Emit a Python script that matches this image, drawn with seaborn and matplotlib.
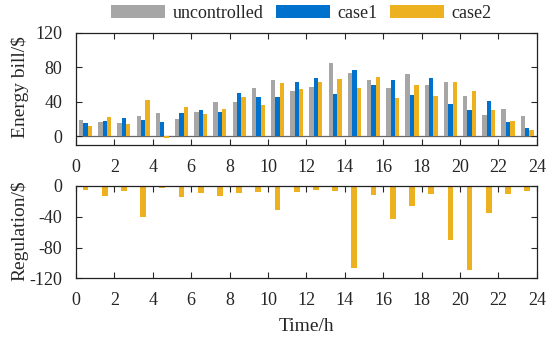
import numpy as np
import pandas as pd
import seaborn as sns
import matplotlib.pyplot as plt

hours = list(range(24))
uncontrolled = [19, 17, 15.5, 24, 27.5, 20.6, 28.3, 39.6, 40, 56.6, 64.8, 52.8,
                57.4, 85.4, 74, 64.8, 56.3, 71.8, 59.4, 63.6, 47, 24.4, 31.8, 23]
case1 = [15, 18, 21, 19.4, 17, 27.5, 30, 28, 50, 45.4, 45.4, 62.9,
         68, 49, 76.8, 59.8, 65.6, 48, 67.5, 37.2, 30.7, 40.4, 16, 9.7]
case2 = [12, 22.5, 14.7, 42, -1.5, 34, 26.4, 31.4, 45.8, 36, 61.7, 55,
         62.5, 66.7, 55.9, 69, 44.6, 59, 46.2, 63.6, 53, 30, 17.5, 7.8]
regulation = [-5.6, -12.9, -6.5, -40.9, -3.4, -15, -9.5, -13.3, -9.5, -8.2, -31, -8.2,
              -5.2, -7.3, -107, -11.6, -43.4, -25.8, -11.2, -69.7, -109, -35.7, -10.7, -6.9]
series_names = ["uncontrolled", "case1", "case2"]
colors = ["#A6A6A6", "#0072CE", "#EDB120"]

bill = pd.DataFrame({
    "hour": np.tile(np.array(hours) + 0.5, 3),
    "series": np.repeat(series_names, 24),
    "value": uncontrolled + case1 + case2,
})
reg = pd.DataFrame({"hour": np.array(hours) + 0.5, "value": regulation})

sns.set_theme(style="ticks")
plt.rcParams["font.family"] = ["Liberation Serif", "DejaVu Serif"]
plt.rcParams["font.size"] = 13
plt.rcParams["axes.unicode_minus"] = False

fig = plt.figure(figsize=(5.5, 3.4), dpi=100)
ax1 = fig.add_axes([0.138, 0.574, 0.838, 0.329])
ax2 = fig.add_axes([0.138, 0.181, 0.838, 0.273])

sns.barplot(data=bill, x="hour", y="value", hue="series", native_scale=True,
            palette=colors, width=0.68, saturation=1, linewidth=0, ax=ax1)
ax1.axhline(0, color="#666666", lw=0.9, zorder=0)
ax1.set_xlim(0, 24)
ax1.set_ylim(-10, 120)
ax1.set_yticks([0, 40, 80, 120])
ax1.set_xticks(range(0, 25, 2))
ax1.set_xlabel("")
ax1.set_ylabel("Energy bill/$", fontsize=14)
ax1.legend(loc="center", bbox_to_anchor=(0.548, 0.96), bbox_transform=fig.transFigure,
           ncol=3, frameon=False, fontsize=13, handlelength=3.0, handleheight=0.7,
           columnspacing=0.7, handletextpad=0.4)

sns.barplot(data=reg, x="hour", y="value", native_scale=True, color=colors[2],
            width=0.3, saturation=1, linewidth=0, ax=ax2)
ax2.set_xlim(0, 24)
ax2.set_ylim(-120, 0)
ax2.set_yticks([-120, -80, -40, 0])
ax2.set_xticks(range(0, 25, 2))
ax2.set_xlabel("Time/h", fontsize=14, labelpad=6)
ax2.set_ylabel("Regulation/$", fontsize=14)

for ax in (ax1, ax2):
    ax.tick_params(direction="in", top=True, right=True, labelsize=13, length=4, width=0.8, pad=10)
    ax.yaxis.set_label_coords(-0.102, 0.52)
    for s in ax.spines.values():
        s.set_linewidth(0.9)
        s.set_color("#222222")

fig.savefig("out.png", dpi=100)
